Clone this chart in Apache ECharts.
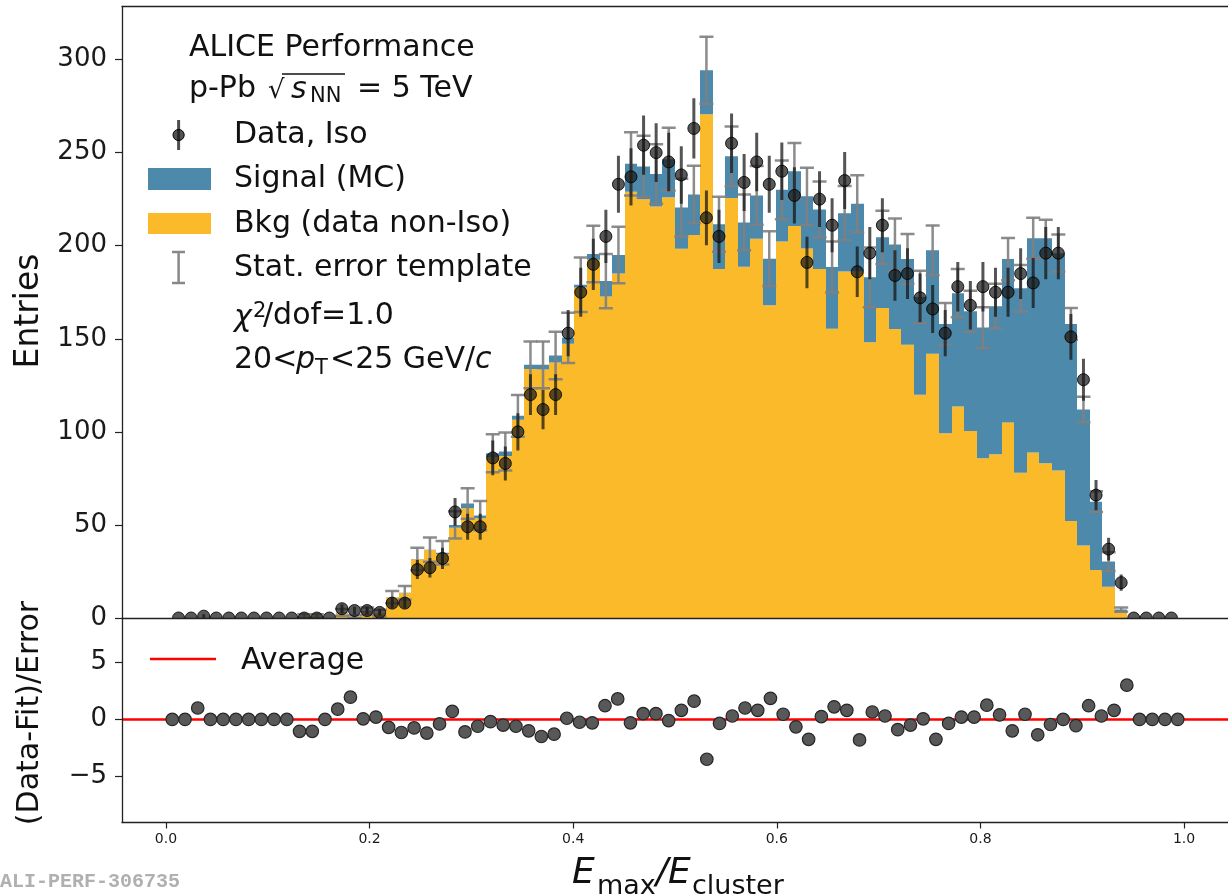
<!DOCTYPE html>
<html><head><meta charset="utf-8">
<script src="https://cdn.jsdelivr.net/npm/echarts@6/dist/echarts.min.js"></script>
<style>html,body{margin:0;padding:0;background:#fff}#c{width:1228px;height:896px}</style>
</head><body><div id="c"></div>
<script>
// ---- bin edges of E_max/E_cluster (80 bins) ----
const binEdges = [
0.0000,0.0125,0.0250,0.0375,0.0500,0.0625,0.0750,0.0875,0.1000,0.1125,
0.1250,0.1375,0.1500,0.1625,0.1750,0.1875,0.2000,0.2125,0.2250,0.2375,
0.2500,0.2625,0.2750,0.2875,0.3000,0.3125,0.3250,0.3375,0.3500,0.3625,
0.3750,0.3875,0.4000,0.4125,0.4250,0.4375,0.4500,0.4625,0.4750,0.4875,
0.5000,0.5125,0.5250,0.5375,0.5500,0.5625,0.5750,0.5875,0.6000,0.6125,
0.6250,0.6375,0.6500,0.6625,0.6750,0.6875,0.7000,0.7125,0.7250,0.7375,
0.7500,0.7625,0.7750,0.7875,0.8000,0.8125,0.8250,0.8375,0.8500,0.8625,
0.8750,0.8875,0.9000,0.9125,0.9250,0.9375,0.9500,0.9625,0.9750,0.9875,
1.0000];

// ---- Data, Iso ----
const dataIso = [
0,0,1,0,0,0,0,0,0,0,
0,0,0,5,4,4,3,8,8,26,
27,32,57,49,49,86,83,100,120,112,
120,153,175,190,205,233,237,254,250,245,
238,263,215,205,255,234,245,233,240,227,
191,225,211,235,186,196,211,184,185,172,
166,153,178,168,178,175,175,185,180,196,
196,151,128,66,37,19,0,0,0,0];
const dataErr = [
0,0,1,0,0,0,0,0,0,0,
0,0,0,2.2,2,2,1.7,2.8,2.8,5.1,
5.2,5.7,7.5,7,7,9.3,9.1,10,11,10.6,
11,12.4,13.2,13.8,14.3,15.3,15.4,15.9,15.8,15.7,
15.4,16.2,14.7,14.3,16,15.3,15.7,15.3,15.5,15.1,
13.8,15,14.5,15.3,13.6,14,14.5,13.6,13.6,13.1,
12.9,12.4,13.3,13,13.3,13.2,13.2,13.6,13.4,14,
14,12.3,11.3,8.1,6.1,4.4,0,0,0,0];

// ---- Bkg (data non-Iso) ----
const bkg = [
0,0,0,0,0,0,0,0,0,0,
1,1,0,2.5,0.5,3,2.5,11,13.4,31.5,
36.5,34.4,48.5,59,53.6,86.4,87,106.5,133.8,133.5,
137.3,147.3,177.5,192.5,172.7,185,229,225,221,226,
198.3,205.7,270.6,187.5,225.6,188.7,203.7,168,202.2,210.6,
198.5,187.5,155.4,186.2,186.2,148.1,166.5,155.3,146.8,119.9,
142,99.3,113.6,100.5,85.8,88,105,78,88.9,83.1,
79.2,52.1,38.9,25.8,16.8,3,0,0,0,0];

// ---- Signal (MC), stacked on bkg ----
const signal = [
0,0,0,0,0,0,0,0,0,0,
0,0,0,0.5,0.1,0.6,0.1,0.2,0.2,0.2,
0.2,0.6,1.5,2.5,1.4,2.1,2.5,2.1,2.2,2.5,
3.7,3.2,1.5,3,8.3,10,15,17.5,17.5,20.5,
22.2,21.8,23.7,24,22.4,23.8,23.3,25,27.8,29.4,
28,32,33.1,31.3,36.3,34.9,38,45.3,46.1,52.6,
55.5,58.7,60.9,64.3,70.2,79.5,87.8,99.2,115.1,120.9,
116.8,105.9,73.1,36.7,13.5,1.5,0,0,0,0];

// ---- Stat. error of the template ----
const tmplErr = [
0,0,0,0,0,0,0,0,0,0,
1,1,0,1.8,0.8,2,1.8,3.3,3.6,6,
6.5,6.3,7.3,8.2,7.8,10.2,10.2,11.2,12.6,12.6,
12.8,13.5,14.6,15.2,14.6,15.2,17,16.5,16,16.8,
15.5,15.5,18,14.8,16,15,15.8,14.7,15.8,15.2,
15.4,15,13.7,14.6,15.4,16,14.3,14,13.4,14,
13.4,11.2,13,11,11,12,11.4,12.5,11,10,
10,8.5,6.8,5.6,5,1.2,0,0,0,0];

// ---- (Data-Fit)/Error ----
const residual = [
0,0,1.0,0,0,0,0,0,0,0,
-1.05,-1.05,0,0.9,1.95,0.05,0.2,-0.7,-1.15,-0.75,
-1.2,-0.4,0.7,-1.1,-0.6,-0.2,-0.5,-0.6,-1.0,-1.5,
-1.3,0.1,-0.25,-0.3,1.2,1.8,-0.3,0.5,0.5,-0.1,
0.8,1.6,-3.5,-0.35,0.3,1.0,0.8,1.85,0.45,-0.65,
-1.75,0.25,1.1,0.8,-1.8,0.65,0.3,-0.9,-0.5,0.05,
-1.75,-0.35,0.2,0.2,1.25,0.4,-1.0,0.45,-1.35,-0.45,
0,-0.55,1.2,0.3,0.8,3.0,0,0,0,0];

const yTicksMain = [0,50,100,150,200,250,300];
const yTicksRes = [-5,0,5];
const xTicks = [0,0.2,0.4,0.6,0.8,1.0];

const FONT = 'DejaVu Sans';
const COL_SIG = '#4d89aa', COL_BKG = '#fbba2a';
const centers = dataIso.map((_, i) => (binEdges[i] + binEdges[i + 1]) / 2);

const bkgData = bkg.map((b, i) => [binEdges[i], binEdges[i + 1], 0, b]);
const sigData = signal.map((s, i) => [binEdges[i], binEdges[i + 1], bkg[i], bkg[i] + s]);
const tmplData = tmplErr.map((e, i) => [centers[i], bkg[i] + signal[i], e]);
const isoData = dataIso.map((d, i) => [centers[i], d, dataErr[i]]);
const resData = residual.map((r, i) => [centers[i], r]);

function barRender(color) {
  return function (params, api) {
    const x0 = api.value(0), x1 = api.value(1), y0 = api.value(2), y1 = api.value(3);
    if (!(y1 > y0)) return null;
    const p0 = api.coord([x0, y0]), p1 = api.coord([x1, y1]);
    const l = Math.round(p0[0]), r = Math.round(p1[0]);
    return { type: 'rect', shape: { x: l, y: p1[1], width: r - l, height: p0[1] - p1[1] },
      style: { fill: color } };
  };
}
function tmplRender(params, api) {
  const x = api.value(0), y = api.value(1), e = api.value(2);
  if (!(e > 0)) return null;
  const t = api.coord([x, y + e]), b = api.coord([x, y - e]);
  const st = { stroke: 'rgba(128,128,128,0.9)', lineWidth: 2.5 };
  return { type: 'group', children: [
    { type: 'line', shape: { x1: t[0], y1: t[1], x2: b[0], y2: b[1] }, style: st },
    { type: 'line', shape: { x1: t[0] - 7, y1: t[1], x2: t[0] + 7, y2: t[1] }, style: st },
    { type: 'line', shape: { x1: b[0] - 7, y1: b[1], x2: b[0] + 7, y2: b[1] }, style: st }
  ] };
}
function isoRender(params, api) {
  const x = api.value(0), y = api.value(1), e = api.value(2);
  const c = api.coord([x, y]);
  const ch = [];
  if (e > 0) {
    const t = api.coord([x, y + e]), b = api.coord([x, y - e]);
    ch.push({ type: 'line', shape: { x1: c[0], y1: t[1], x2: c[0], y2: b[1] },
      style: { stroke: 'rgba(20,20,20,0.72)', lineWidth: 3 } });
  }
  ch.push({ type: 'circle', shape: { cx: c[0], cy: c[1], r: 6 },
    style: { fill: 'rgba(25,25,25,0.72)', stroke: 'rgba(0,0,0,0.85)', lineWidth: 1 } });
  return { type: 'group', children: ch };
}

const axLine = { show: true, onZero: false, lineStyle: { color: '#222', width: 1.3 } };
const lab = (extra) => Object.assign({ fontFamily: FONT, color: '#1a1a1a' }, extra);

function txt(x, y, text, size, opts) {
  return Object.assign({ type: 'text', x: x, y: y, z: 100,
    style: Object.assign({ text: text, fill: '#111', font: size + 'px "' + FONT + '"',
      textAlign: 'left', textVerticalAlign: 'middle' }, (opts && opts.style) || {}) },
    (opts && opts.el) || {});
}
function itxt(x, y, text, size) {
  return txt(x, y, text, size, { style: { font: 'italic ' + size + 'px "' + FONT + '"' } });
}

const chart = echarts.init(document.getElementById('c'), null, { renderer: 'canvas' });
chart.setOption({
  animation: false,
  backgroundColor: '#fff',
  grid: [
    { left: 122, top: 6.5, width: 1120, height: 611.5, containLabel: false },
    { left: 122, top: 618, width: 1120, height: 204.5, containLabel: false }
  ],
  xAxis: [
    { type: 'value', gridIndex: 0, min: -0.05, max: 1.05, position: 'bottom', z: 10,
      axisLine: axLine, axisTick: { show: false }, axisLabel: { show: false }, splitLine: { show: false } },
    { type: 'value', gridIndex: 0, min: -0.05, max: 1.05, position: 'top', z: 10,
      axisLine: axLine, axisTick: { show: false }, axisLabel: { show: false }, splitLine: { show: false } },
    { type: 'value', gridIndex: 1, min: -0.043125, max: 1.043125, position: 'bottom', z: 10,
      axisLine: axLine,
      axisTick: { show: true, length: 6, customValues: xTicks, lineStyle: { color: '#222', width: 1.2 } },
      axisLabel: lab({ customValues: xTicks, fontSize: 14, margin: 10, formatter: v => v.toFixed(1) }),
      splitLine: { show: false } }
  ],
  yAxis: [
    { type: 'value', gridIndex: 0, min: 0, max: 328.5, z: 10, position: 'left',
      axisLine: axLine,
      axisTick: { show: true, length: 7, customValues: yTicksMain, lineStyle: { color: '#222', width: 1.2 } },
      axisLabel: lab({ customValues: yTicksMain, fontSize: 26, margin: 15 }),
      splitLine: { show: false } },
    { type: 'value', gridIndex: 1, min: -9.05, max: 8.9, z: 10, position: 'left',
      axisLine: axLine,
      axisTick: { show: true, length: 7, customValues: yTicksRes, lineStyle: { color: '#222', width: 1.2 } },
      axisLabel: lab({ customValues: yTicksRes, fontSize: 26, margin: 15,
        formatter: v => (v < 0 ? '\u2212' + Math.abs(v) : String(v)) }),
      splitLine: { show: false } }
  ],
  series: [
    { name: 'Bkg (data non-Iso)', type: 'custom', xAxisIndex: 0, yAxisIndex: 0, clip: true, z: 2,
      renderItem: barRender(COL_BKG), encode: { x: [0, 1], y: [2, 3] }, data: bkgData },
    { name: 'Signal (MC)', type: 'custom', xAxisIndex: 0, yAxisIndex: 0, clip: true, z: 2,
      renderItem: barRender(COL_SIG), encode: { x: [0, 1], y: [2, 3] }, data: sigData },
    { name: 'Stat. error template', type: 'custom', xAxisIndex: 0, yAxisIndex: 0, clip: true, z: 3,
      renderItem: tmplRender, encode: { x: 0, y: 1 }, data: tmplData },
    { name: 'Data, Iso', type: 'custom', xAxisIndex: 0, yAxisIndex: 0, clip: true, z: 4,
      renderItem: isoRender, encode: { x: 0, y: 1 }, data: isoData },
    { name: 'Average', type: 'line', xAxisIndex: 2, yAxisIndex: 1, z: 2, silent: true,
      showSymbol: false, symbol: 'none', lineStyle: { color: '#ff0000', width: 2.5 },
      data: [[-0.043125, 0], [1.043125, 0]] },
    { name: 'Residual', type: 'scatter', xAxisIndex: 2, yAxisIndex: 1, z: 4, symbolSize: 12.5,
      itemStyle: { color: '#585858', borderColor: '#262626', borderWidth: 1.2, opacity: 1 },
      data: resData }
  ],
  graphic: [
    txt(189, 48, 'ALICE Performance', 30),
    txt(189, 89, 'p-Pb', 30),
    txt(268, 91, '\u221A', 26),
    { type: 'line', z: 100, shape: { x1: 282, y1: 74, x2: 345, y2: 74 }, style: { stroke: '#111', lineWidth: 1.6 } },
    itxt(291, 90, 's', 30),
    txt(310, 97, 'NN', 21),
    txt(357, 89, '= 5 TeV', 30),
    { type: 'line', z: 100, shape: { x1: 178.6, y1: 120, x2: 178.6, y2: 150 }, style: { stroke: 'rgba(20,20,20,0.75)', lineWidth: 3 } },
    { type: 'circle', z: 100, shape: { cx: 178.6, cy: 135, r: 5.6 }, style: { fill: 'rgba(25,25,25,0.75)', stroke: '#000', lineWidth: 1 } },
    txt(234, 135, 'Data, Iso', 30),
    { type: 'rect', z: 100, shape: { x: 148, y: 168, width: 63, height: 22 }, style: { fill: COL_SIG } },
    txt(234, 179, 'Signal (MC)', 30),
    { type: 'rect', z: 100, shape: { x: 148, y: 213, width: 63, height: 21 }, style: { fill: COL_BKG } },
    txt(234, 224, 'Bkg (data non-Iso)', 30),
    { type: 'line', z: 100, shape: { x1: 178.6, y1: 252, x2: 178.6, y2: 283 }, style: { stroke: '#888', lineWidth: 2.5 } },
    { type: 'line', z: 100, shape: { x1: 172, y1: 252, x2: 185, y2: 252 }, style: { stroke: '#888', lineWidth: 2.5 } },
    { type: 'line', z: 100, shape: { x1: 172, y1: 283, x2: 185, y2: 283 }, style: { stroke: '#888', lineWidth: 2.5 } },
    txt(234, 268, 'Stat. error template', 30),
    itxt(234, 318, '\u03C7', 30),
    txt(253, 312, '2', 21),
    txt(263, 316, '/dof=1.0', 30),
    txt(234, 360, '20<', 30),
    itxt(296, 360, 'p', 30),
    txt(315, 369, 'T', 21),
    txt(330, 360, '<25 GeV/', 30),
    itxt(475, 360, 'c', 30),
    { type: 'line', z: 100, shape: { x1: 150, y1: 659, x2: 216, y2: 659 }, style: { stroke: '#ff0000', lineWidth: 2.5 } },
    txt(241, 661, 'Average', 30),
    txt(29, 311, 'Entries', 33, { style: { textAlign: 'center' }, el: { rotation: Math.PI / 2 } }),
    txt(30, 713, '(Data-Fit)/Error', 30, { style: { textAlign: 'center' }, el: { rotation: Math.PI / 2 } }),
    itxt(572, 874, 'E', 36),
    txt(597, 887, 'max', 27),
    itxt(656, 874, '/', 36),
    itxt(668, 874, 'E', 36),
    txt(692, 887, 'cluster', 27),
    txt(0, 882, 'ALI-PERF-306735', 20, { style: { fill: '#b0b0b0', font: 'bold 20px "Liberation Mono"' } })
  ]
});
</script>
</body></html>
